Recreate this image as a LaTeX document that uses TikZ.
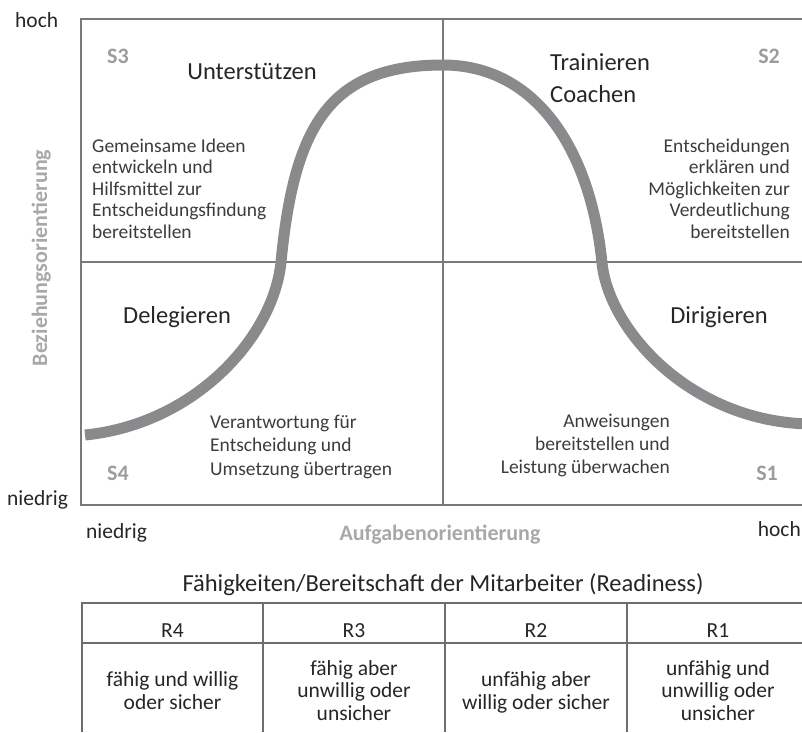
\documentclass[tikz,border=0pt]{standalone}
\usepackage{fontspec}
\setmainfont{Carlito}

\definecolor{frameline}{HTML}{7A7A7A}
\definecolor{bellgray}{HTML}{8A8A8C}
\definecolor{ink}{HTML}{3C3C3C}
\definecolor{headink}{HTML}{262626}
\definecolor{taggray}{HTML}{9C9C9C}
\definecolor{axisgray}{HTML}{A8A8A8}
\definecolor{gridline}{HTML}{6E6E6E}

\tikzset{
  bodytext/.style={font=\fontsize{19.5}{21.5}\selectfont, text=ink, inner sep=0pt},
  headword/.style={font=\fontsize{24.5}{32}\selectfont, text=headink, inner sep=0pt},
  stylename/.style={font=\bfseries\fontsize{22}{22}\selectfont, text=taggray, inner sep=0pt},
  scaleword/.style={font=\fontsize{21.5}{22}\selectfont, text=headink, inner sep=0pt},
  axisname/.style={font=\bfseries\fontsize{22}{22}\selectfont, text=axisgray, inner sep=0pt},
  celltext/.style={font=\fontsize{21.5}{22.5}\selectfont, text=headink, inner sep=0pt, align=center},
  quadline/.style={draw=frameline, line width=1.5pt},
  tableline/.style={draw=gridline, line width=1.5pt},
}

\begin{document}
\begin{tikzpicture}[x=1pt, y=-1pt]
\useasboundingbox (0,0) rectangle (802,732);

% quadrant frame
\draw[quadline] (802,19) -- (81,19) -- (81,505) -- (802,505);
\draw[quadline] (81,262) -- (802,262);
\draw[quadline] (443,19) -- (443,505);

% bell curve of the leadership styles
\coordinate (bstart) at (85,435);
\coordinate (bleft)  at (281,262);
\coordinate (btop)   at (443,65);
\coordinate (bright) at (602,263);
\coordinate (bend)   at (812,424);
\draw[bellgray, line width=11pt]
  (bstart) .. controls (195,424) and (273.5,337) .. (bleft)
           .. controls (294,128) and (328,65) .. (btop)
           .. controls (535,65) and (590.5,148) .. (bright)
           .. controls (609,331) and (692,423) .. (bend);

% axis values
\node[scaleword, anchor=base west] (yhigh) at (15,27) {hoch};
\node[scaleword, anchor=base west] (ylow) at (7,505) {niedrig};
\node[scaleword, anchor=base west] (xlow) at (86,538) {niedrig};
\node[scaleword, anchor=base east] (xhigh) at (801,536) {hoch};
\node[axisname, anchor=base] (xname) at (440,540) {Aufgabenorientierung};
\node[axisname, rotate=90, anchor=base] (yname) at (47,258) {Beziehungsorientierung};

% style numbers
\node[stylename, anchor=base west] (s3) at (107,63) {S3};
\node[stylename, anchor=base east] (s2) at (780,63) {S2};
\node[stylename, anchor=base west] (s4) at (107,480) {S4};
\node[stylename, anchor=base east] (s1) at (778,480) {S1};

% style names (multi-line nodes are anchored at their last baseline)
\node[headword, anchor=base] (support) at (252,79) {Unterstützen};
\node[headword, anchor=base west, align=left] (coach) at (550,102) {Trainieren\\Coachen};
\node[headword, anchor=base west] (delegate) at (123,323) {Delegieren};
\node[headword, anchor=base east] (direct) at (768,323) {Dirigieren};

% descriptions
\node[bodytext, anchor=base west, align=left] (d3) at (92,238)
  {Gemeinsame Ideen\\entwickeln und\\Hilfsmittel zur\\Entscheidungsfindung\\bereitstellen};
\node[bodytext, anchor=base east, align=right] (d2) at (790,238)
  {Entscheidungen\\erklären und\\Möglichkeiten zur\\Verdeutlichung\\bereitstellen};
\node[bodytext, anchor=base west, align=left, font=\fontsize{19.5}{23.5}\selectfont] (d4) at (210,475)
  {Verantwortung für\\Entscheidung und\\Umsetzung übertragen};
\node[bodytext, anchor=base east, align=right, font=\fontsize{19.5}{23}\selectfont] (d1) at (670,473)
  {Anweisungen\\bereitstellen und\\Leistung überwachen};

% readiness table
\node[celltext, anchor=base, font=\fontsize{24.5}{26}\selectfont] (rtitle) at (443,591)
  {Fähigkeiten/Bereitschaft der Mitarbeiter (Readiness)};
\draw[tableline] (82,732) -- (82,603) -- (802,603);
\draw[tableline] (82,643) -- (802,643);
\draw[tableline] (263,603) -- (263,732);
\draw[tableline] (445,603) -- (445,732);
\draw[tableline] (627,603) -- (627,732);

\node[celltext, anchor=base] (r4) at (172.5,637) {R4};
\node[celltext, anchor=base] (r3) at (354,637) {R3};
\node[celltext, anchor=base] (r2) at (536,637) {R2};
\node[celltext, anchor=base] (r1) at (718,637) {R1};

\node[celltext, anchor=base] (t4) at (172.5,709) {fähig und willig\\oder sicher};
\node[celltext, anchor=base] (t3) at (354,720) {fähig aber\\unwillig oder\\unsicher};
\node[celltext, anchor=base] (t2) at (536,709) {unfähig aber\\willig oder  sicher};
\node[celltext, anchor=base] (t1) at (718,720) {unfähig und\\unwillig oder\\unsicher};
\end{tikzpicture}
\end{document}
